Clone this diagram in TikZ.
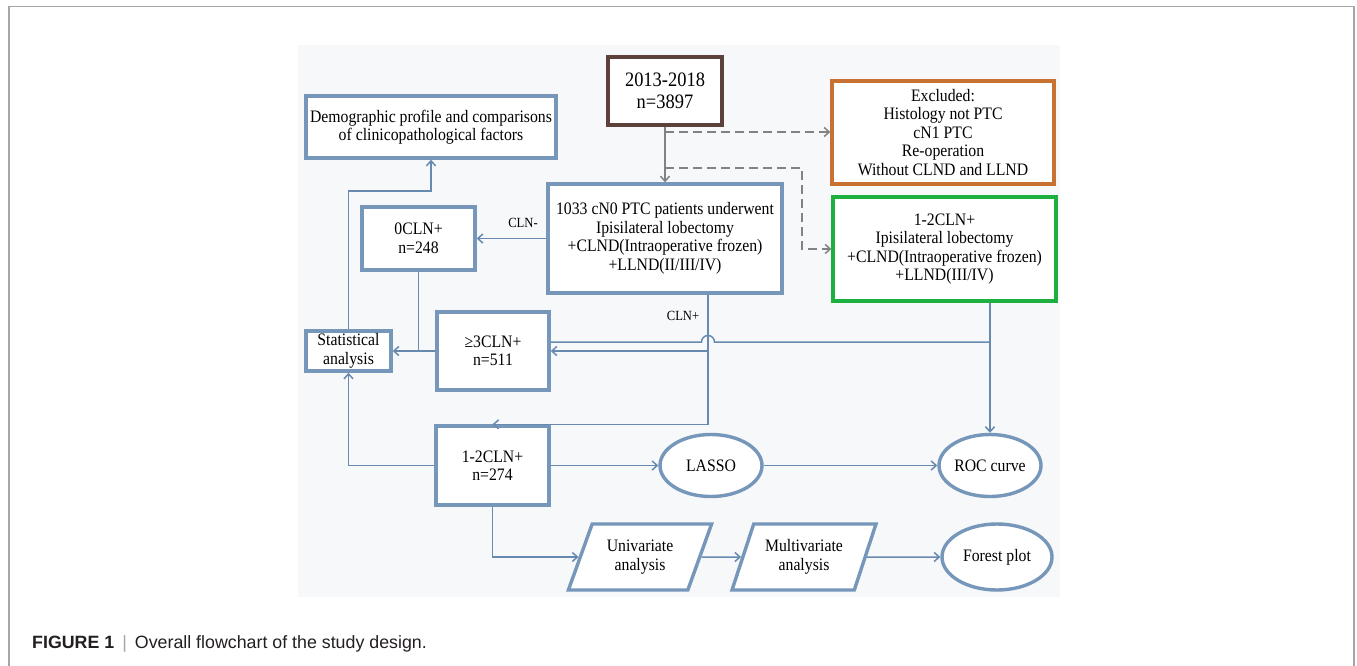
\documentclass[tikz,border=0pt]{standalone}
\usepackage{fontspec}
\setmainfont[FakeStretch=0.9]{Liberation Serif}
\newfontfamily\capfont{Liberation Sans}
\usetikzlibrary{arrows.meta,shapes.geometric,calc}
\definecolor{boxblue}{RGB}{118,151,186}
\definecolor{lineblue}{RGB}{104,138,176}
\definecolor{brownb}{RGB}{92,66,58}
\definecolor{orangeb}{RGB}{200,114,50}
\definecolor{greenb}{RGB}{30,176,62}
\definecolor{grayline}{RGB}{130,130,130}
\definecolor{panel}{RGB}{246,248,250}
\definecolor{framegray}{RGB}{165,165,165}
\definecolor{captext}{RGB}{35,31,32}
\begin{document}
\begin{tikzpicture}[x=1pt,y=-1pt,
  every node/.style={font=\fontsize{17.5}{18.5}\selectfont, align=center, inner sep=0pt},
  flowbox/.style={draw=boxblue, line width=3.4pt, fill=white, rectangle},
  ovalbox/.style={draw=boxblue, line width=3.4pt, fill=white, ellipse},
  parabox/.style={draw=boxblue, line width=3.4pt, fill=white, trapezium,
     trapezium left angle=64, trapezium right angle=116, trapezium stretches=true},
  conn/.style={draw=lineblue, line width=1.5pt, -{Straight Barb[length=5pt,width=9pt]}},
  plainconn/.style={draw=lineblue, line width=1.5pt},
  grayconn/.style={draw=grayline, line width=1.5pt, -{Straight Barb[length=5pt,width=9pt]}},
  dashconn/.style={grayconn, dash pattern=on 9pt off 5pt},
  smalllabel/.style={font=\fontsize{14}{16}\selectfont}
]
\useasboundingbox (0,0) rectangle (1357,666);
% frame and panel
\draw[framegray, line width=1.5pt] (9,666) -- (9,6.5) -- (1354,6.5) -- (1354,666);
\fill[panel] (298,45) rectangle (1060,597);

% nodes
\node[flowbox, draw=brownb, minimum width=114pt, minimum height=68pt,
      font=\fontsize{20.5}{21.7}\selectfont] (top) at (665,91) {2013-2018\\n=3897};
\node[flowbox, minimum width=250pt, minimum height=62pt] (demo) at (431,127)
      {Demographic profile and comparisons\\of clinicopathological factors};
\node[flowbox, draw=orangeb, minimum width=222pt, minimum height=103pt] (exc) at (943,132.5)
      {Excluded:\\Histology not PTC\\cN1 PTC\\Re-operation\\Without CLND and LLND};
\node[flowbox, minimum width=234pt, minimum height=109pt] (main) at (665,238.5)
      {1033 cN0 PTC patients underwent\\Ipisilateral lobectomy\\+CLND(Intraoperative frozen)\\+LLND(II/III/IV)};
\node[flowbox, draw=greenb, minimum width=223pt, minimum height=104pt] (green) at (944.5,249)
      {1-2CLN+\\Ipisilateral lobectomy\\+CLND(Intraoperative frozen)\\+LLND(III/IV)};
\node[flowbox, minimum width=113pt, minimum height=63pt] (c0) at (418.5,238.5) {0CLN+\\n=248};
\node[flowbox, minimum width=112pt, minimum height=78pt] (c3) at (493,351) {≥3CLN+\\n=511};
\node[flowbox, minimum width=85pt, minimum height=40pt] (stat) at (348.5,351) {Statistical\\analysis};
\node[flowbox, minimum width=113pt, minimum height=79pt] (c12) at (492.5,465.5) {1-2CLN+\\n=274};
\node[ovalbox, minimum width=102pt, minimum height=62pt] (lasso) at (711,465.5) {LASSO};
\node[ovalbox, minimum width=102pt, minimum height=62pt] (roc) at (990,465.5) {ROC curve};
\node[parabox, minimum width=144pt, minimum height=66pt] (uni) at (640,557) {Univariate\\analysis};
\node[parabox, minimum width=144pt, minimum height=66pt] (multi) at (804,557) {Multivariate\\analysis};
\node[ovalbox, minimum width=110pt, minimum height=66pt] (forest) at (997,557) {Forest plot};

% labels
\node[smalllabel] (lminus) at (523,223) {CLN-};
\node[smalllabel] (lplus) at (683,316) {CLN+};

% helper coordinates
\coordinate (vx) at (708,0);
\coordinate (d1) at (665,132);
\coordinate (d2) at (665,168);
\coordinate (d2b) at (802,168);
\coordinate (sd) at (431,191);
\coordinate (hopy) at (0,342);

% top connectors
\draw[grayconn] (top.south) -- (main.north);
\draw[dashconn] (d1) -- (d1 -| exc.west);
\draw[dashconn] (d2) -- (d2b) |- (green.west);

% CLN- branch
\draw[conn] (main.west) -- (c0.east);
% CLN+ branch
\draw[conn] (main.south -| vx) |- (c12.north);
\draw[conn] (vx |- c3.east) -- (c3.east);
% green to ROC and to >=3CLN
\draw[conn] (roc.north |- green.south) -- (roc.north);
\draw[plainconn] (roc.north |- hopy) -- (714.5,342)
   arc[start angle=0, end angle=180, radius=6.5pt] -- (c3.east |- hopy);
% to statistical analysis
\draw[conn] (c3.west) -- (stat.east);
\draw[plainconn] (c0.south) -- (c0.south |- stat.east);
\draw[conn] (stat.north) |- (sd) -- (demo.south);
\draw[conn] (c12.west) -| (stat.south);
% lower chain
\draw[conn] (c12.east) -- (lasso.west);
\draw[conn] (lasso.east) -- (roc.west);
\draw[conn] (c12.south) |- (uni.west);
\draw[conn] (uni.east) -- (multi.west);
\draw[conn] (multi.east) -- (forest.west);

% caption
\node[anchor=base west, font=\capfont\fontsize{17.8}{20}\selectfont, text=captext] (cap) at (32,648)
  {\textbf{FIGURE 1}\hspace{0.45em}{\color{framegray}|}\hspace{0.45em}Overall flowchart of the study design.};
\end{tikzpicture}
\end{document}
